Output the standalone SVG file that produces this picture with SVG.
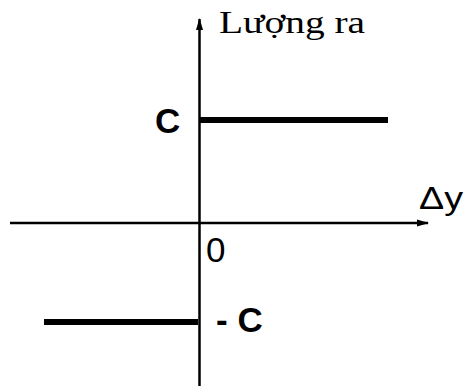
<svg xmlns="http://www.w3.org/2000/svg" width="467" height="386" viewBox="0 0 467 386">
<style>
.axis{stroke:#000;stroke-width:2.5;fill:none}
.lvl{stroke:#000;stroke-width:6;fill:none}
.sans{font-family:"Liberation Sans",Arial,sans-serif;fill:#000}
.serif{font-family:"Liberation Serif","Times New Roman",serif;fill:#000}
</style>
<defs>
<marker id="ah" markerWidth="12" markerHeight="8" refX="11" refY="4" orient="auto" markerUnits="userSpaceOnUse">
<path d="M0,0.5 L12,4 L0,7.5 Z" fill="#000"/>
</marker>
</defs>
<g id="connectors">
<line class="axis" x1="10" y1="223" x2="428" y2="223" marker-end="url(#ah)"/>
<line class="axis" x1="199.5" y1="386" x2="199.5" y2="19" marker-end="url(#ah)"/>
<line class="lvl" x1="200" y1="120" x2="388" y2="120"/>
<line class="lvl" x1="44" y1="322" x2="198" y2="322"/>
</g>
<g id="label-output"><text class="serif" x="219" y="33" font-size="32" textLength="146" lengthAdjust="spacingAndGlyphs">Lượng ra</text></g>
<g id="label-C"><text class="sans" x="155" y="133" font-size="35" font-weight="bold">C</text></g>
<g id="label-dy"><text class="sans" x="419" y="209" font-size="31" textLength="44" lengthAdjust="spacingAndGlyphs">Δy</text></g>
<g id="label-0"><text class="sans" x="206" y="262" font-size="35">0</text></g>
<g id="label-negC"><text class="sans" x="216" y="332" font-size="35" font-weight="bold">- C</text></g>
</svg>
